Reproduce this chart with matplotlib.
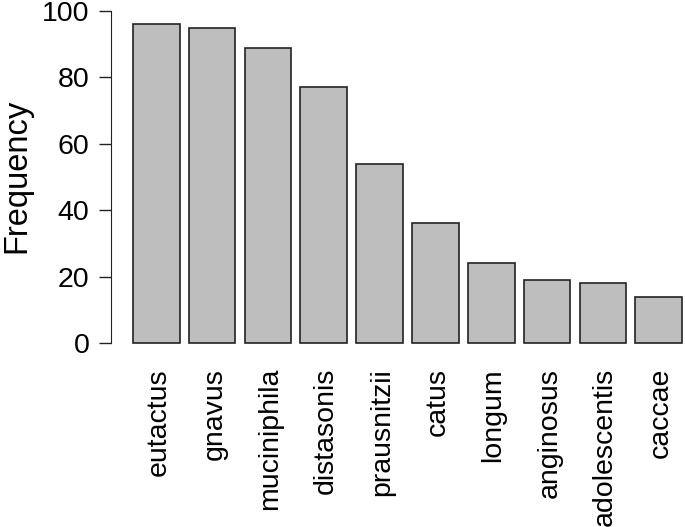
import matplotlib
matplotlib.use("Agg")
import matplotlib.pyplot as plt

species = ["eutactus", "gnavus", "muciniphila", "distasonis", "prausnitzii",
           "catus", "longum", "anginosus", "adolescentis", "caccae"]
frequency = [96, 95, 89, 77, 54, 36, 24, 19, 18, 14]
yticks = [0, 20, 40, 60, 80, 100]

plt.rcParams['font.family'] = ['Liberation Sans', 'DejaVu Sans']
FS = 20.5

W, H = 685, 527
fig = plt.figure(figsize=(W / 100, H / 100), dpi=100)

# plot region in pixels (R barplot style)
left_px, right_px, top_px, bottom_px = 111, 685, 0, 356
ax = fig.add_axes([left_px / W, 1 - bottom_px / H,
                   (right_px - left_px) / W, (bottom_px - top_px) / H])

# R: bars width 1, space 0.2 -> centers at 0.7 + 1.2*i
centers = [0.7 + 1.2 * i for i in range(len(species))]
ax.bar(centers, frequency, width=1.0, color='#bebebe',
       edgecolor='#222222', linewidth=1.2)

px_per_x = (682 - 133) / 11.8
x0 = 0.2 - (133 - left_px) / px_per_x
ax.set_xlim(x0, x0 + (right_px - left_px) / px_per_x)
px_per_y = (343 - 11) / 100
ax.set_ylim(-(bottom_px - 343) / px_per_y, (343 - top_px) / px_per_y)

for s in ['top', 'right', 'bottom']:
    ax.spines[s].set_visible(False)
ax.spines['left'].set_bounds(0, 100)
ax.spines['left'].set_color('#222222')

ax.set_yticks(yticks)
ax.set_yticklabels([str(v) for v in yticks], fontsize=FS)
ax.tick_params(axis='y', length=8.6, width=1, color='#222222', pad=7)
ax.set_xticks([])

for c, name in zip(centers, species):
    ax.text(c + 0.05, -7.5, name, rotation=90, ha='center', va='top',
            fontsize=FS, clip_on=False)

fig.text(17 / W, 1 - 176 / H, 'Frequency', rotation=90, ha='center',
         va='center', fontsize=23.5)

fig.savefig('out.png', dpi=100)
